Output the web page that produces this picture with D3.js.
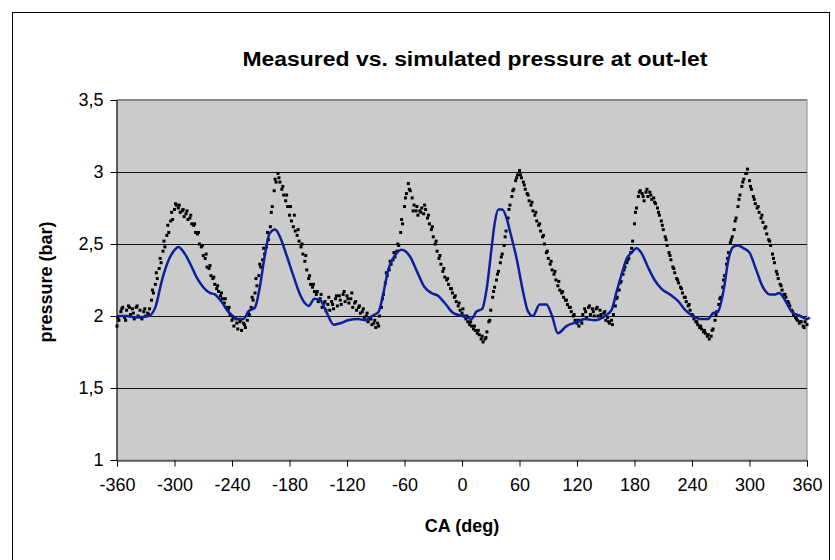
<!DOCTYPE html>
<html>
<head>
<meta charset="utf-8">
<script src="https://cdn.jsdelivr.net/npm/d3@7"></script>
<style>
  body { margin: 0; background: white; }
  text { font-family: Arial, "Liberation Sans", sans-serif; }
</style>
</head>
<body>
<svg id="svg"></svg>
<script>

// x ticks (crank angle) and y ticks (pressure)
let xTicks = [-360, -300, -240, -180, -120, -60, 0, 60, 120, 180, 240, 300, 360];
let yTicks = [1, 1.5, 2, 2.5, 3, 3.5];

// simulated pressure (blue line)
let simDeg = [-360, -350, -340, -327, -320, -313, -306, -301, -296, -289,
    -282, -277, -270, -263, -258, -251, -244, -239, -235, -228,
    -223, -216, -211, -206, -201, -195, -190, -183, -176, -169,
    -164, -160, -154, -148, -141, -134, -127, -119, -108, -101,
    -94, -87, -82, -77, -70, -63, -54, -47, -39, -32,
    -25, -18, -9, 1, 10, 15, 21, 26, 31, 34,
    38, 42, 47, 50, 57, 64, 69, 74, 81, 88,
    94, 100, 109, 121, 128, 139, 149, 156, 161, 167,
    172, 177, 182, 187, 194, 201, 208, 217, 226, 233,
    241, 248, 257, 262, 267, 273, 278, 283, 288, 294,
    300, 307, 314, 321, 327, 331, 337, 344, 353, 360, 363];
let simVal = [2.00, 2.00, 1.99, 2.00, 2.06, 2.25, 2.39, 2.45, 2.48, 2.43,
    2.34, 2.27, 2.20, 2.16, 2.15, 2.10, 2.03, 2.00, 1.98, 1.98,
    2.03, 2.06, 2.20, 2.41, 2.57, 2.60, 2.55, 2.42, 2.28, 2.15,
    2.09, 2.07, 2.12, 2.11, 2.02, 1.94, 1.95, 1.97, 1.98, 1.97,
    2.00, 2.03, 2.16, 2.32, 2.42, 2.46, 2.41, 2.31, 2.20, 2.16,
    2.14, 2.09, 2.02, 2.00, 1.98, 2.03, 2.05, 2.20, 2.48, 2.64,
    2.74, 2.74, 2.67, 2.59, 2.40, 2.16, 2.03, 2.00, 2.08, 2.08,
    2.00, 1.88, 1.93, 1.96, 1.98, 1.97, 2.00, 2.04, 2.16, 2.30,
    2.40, 2.44, 2.47, 2.44, 2.34, 2.25, 2.19, 2.15, 2.10, 2.04,
    2.00, 1.98, 1.98, 2.02, 2.03, 2.18, 2.39, 2.48, 2.49, 2.47,
    2.44, 2.32, 2.20, 2.15, 2.15, 2.16, 2.11, 2.03, 2.00, 1.98, 1.99];

// measured pressure (black dots), first cycle every 2 deg from -360 to 360
let measStartA = -360, measStepA = 2;
let measA = [
    1.93, 1.97, 2.03, 2.06, 1.99, 2.04, 2.07, 2.01, 2.05, 1.98,
    2.06, 2.00, 2.04, 1.98, 2.03, 2.00, 2.02, 2.05, 2.11, 2.16,
    2.22, 2.26, 2.33, 2.37, 2.45, 2.48, 2.56, 2.58, 2.66, 2.67,
    2.74, 2.77, 2.75, 2.72, 2.73, 2.69, 2.71, 2.67, 2.68, 2.64,
    2.63, 2.58, 2.57, 2.50, 2.48, 2.42, 2.40, 2.34, 2.33, 2.28,
    2.26, 2.22, 2.19, 2.17, 2.14, 2.12, 2.09, 2.06, 2.04, 2.01,
    1.97, 1.93, 1.98, 1.91, 1.96, 1.90, 1.95, 1.92, 1.97, 2.01,
    2.06, 2.11, 2.16, 2.21, 2.28, 2.34, 2.39, 2.43, 2.48, 2.53,
    2.62, 2.76, 2.87, 2.93, 2.99, 2.93, 2.88, 2.84, 2.80, 2.76,
    2.70, 2.66, 2.62, 2.59, 2.56, 2.52, 2.48, 2.43, 2.38, 2.32,
    2.26, 2.22, 2.20, 2.17, 2.15, 2.10, 2.12, 2.06, 2.09, 2.04,
    2.08, 2.04, 2.10, 2.05, 2.12, 2.07, 2.14, 2.08, 2.15, 2.10,
    2.14, 2.09, 2.12, 2.06, 2.09, 2.04, 2.06, 2.02, 2.03, 1.99,
    2.00, 1.96, 1.98, 1.94, 1.95, 1.92, 1.95, 2.00, 2.06, 2.15,
    2.23, 2.28, 2.32, 2.36, 2.39, 2.41, 2.45, 2.49, 2.58, 2.64,
    2.76, 2.85, 2.92, 2.87, 2.82, 2.77, 2.73, 2.70, 2.73, 2.75,
    2.71, 2.74, 2.68, 2.64, 2.60, 2.55, 2.50, 2.45, 2.40, 2.36,
    2.31, 2.27, 2.25, 2.22, 2.19, 2.16, 2.13, 2.10, 2.07, 2.04,
    2.02, 2.00, 1.98, 1.96, 1.94, 1.93, 1.91, 1.90, 1.88, 1.87,
    1.84, 1.82, 1.84, 1.89, 1.96, 2.04, 2.13, 2.20, 2.25, 2.31,
    2.37, 2.43, 2.49, 2.59, 2.68, 2.77, 2.83, 2.88, 2.94, 2.98,
    3.01, 2.96, 2.93, 2.88, 2.85, 2.80, 2.77, 2.73, 2.70, 2.66,
    2.63, 2.59, 2.55, 2.50, 2.44, 2.40, 2.36, 2.32, 2.29, 2.25,
    2.21, 2.18, 2.16, 2.13, 2.11, 2.08, 2.06, 2.03, 2.00, 1.97,
    1.95, 1.93, 1.97, 2.01, 2.05, 1.99, 2.06, 2.01, 2.05, 2.00,
    2.05, 2.00, 2.04, 1.99, 2.02, 1.97, 1.99, 1.95, 1.97, 2.01,
    2.07, 2.13, 2.18, 2.24, 2.29, 2.34, 2.37, 2.40, 2.44, 2.52,
    2.64, 2.75, 2.83, 2.87, 2.85, 2.80, 2.86, 2.83, 2.86, 2.81,
    2.82, 2.78, 2.75, 2.70, 2.66, 2.60, 2.55, 2.49, 2.44, 2.39,
    2.34, 2.30, 2.26, 2.23, 2.20, 2.16, 2.13, 2.10, 2.07, 2.04,
    2.01, 1.98, 1.96, 1.94, 1.92, 1.91, 1.89, 1.88, 1.86, 1.84,
    1.86, 1.91, 1.97, 2.03, 2.08, 2.13, 2.20, 2.28, 2.36, 2.44,
    2.51, 2.55, 2.60, 2.68, 2.76, 2.84, 2.90, 2.95, 2.99, 3.02,
    2.94, 2.88, 2.83, 2.78, 2.75, 2.72, 2.68, 2.65, 2.61, 2.57,
    2.53, 2.49, 2.43, 2.37, 2.31, 2.26, 2.22, 2.18, 2.15, 2.13,
    2.10, 2.07, 2.04, 2.01, 1.99, 1.97, 1.95, 1.96, 1.93, 1.96,
    1.94];

// second measured cycle, every 4 deg from -359 to 357
let measStartB = -359, measStepB = 4;
let measB = [
    1.99, 2.05, 1.97, 2.06, 2.02, 2.07, 1.99, 2.05, 2.01, 2.18,
    2.30, 2.40, 2.52, 2.63, 2.72, 2.78, 2.77, 2.74, 2.73, 2.70,
    2.64, 2.58, 2.49, 2.43, 2.35, 2.27, 2.21, 2.16, 2.12, 2.06,
    1.99, 1.95, 1.97, 1.94, 2.02, 2.13, 2.26, 2.36, 2.47, 2.58,
    2.72, 2.95, 2.96, 2.90, 2.84, 2.76, 2.70, 2.60, 2.50, 2.42,
    2.28, 2.22, 2.17, 2.15, 2.10, 2.13, 2.08, 2.14, 2.11, 2.17,
    2.12, 2.16, 2.10, 2.07, 2.05, 2.02, 1.98, 1.97, 1.93, 2.12,
    2.30, 2.38, 2.44, 2.50, 2.67, 2.82, 2.88, 2.73, 2.76, 2.72,
    2.77, 2.70, 2.62, 2.52, 2.42, 2.33, 2.26, 2.19, 2.14, 2.09,
    2.05, 2.00, 1.96, 1.93, 1.90, 1.86, 1.85, 1.97, 2.17, 2.29,
    2.41, 2.55, 2.74, 2.87, 2.96, 2.98, 2.91, 2.84, 2.79, 2.72,
    2.64, 2.56, 2.45, 2.38, 2.31, 2.24, 2.17, 2.11, 2.06, 2.01,
    1.97, 1.95, 2.03, 2.07, 2.03, 2.06, 2.01, 2.03, 1.96, 1.94,
    2.12, 2.23, 2.32, 2.39, 2.47, 2.72, 2.86, 2.83, 2.88, 2.84,
    2.79, 2.72, 2.63, 2.53, 2.42, 2.33, 2.25, 2.19, 2.13, 2.08,
    2.00, 1.96, 1.93, 1.90, 1.87, 1.90, 2.01, 2.12, 2.25, 2.40,
    2.53, 2.66, 2.81, 2.93, 2.99, 2.90, 2.81, 2.76, 2.70, 2.62,
    2.52, 2.40, 2.29, 2.21, 2.15, 2.09, 2.03, 1.98, 1.96, 1.92];

const width = 835;
const height = 560;

let svg = d3.select("#svg")
    .attr("width", width)
    .attr("height", height);

// plot area
const plot = { left: 117, right: 807, top: 100, bottom: 460 };

let xScale = d3.scaleLinear()
    .domain([-360, 360])
    .range([plot.left, plot.right]);

let yScale = d3.scaleLinear()
    .domain([1, 3.5])
    .range([plot.bottom, plot.top]);

function drawFrame() {
    // white chart area with the thin black border
    svg.append("rect")
        .attr("x", 0).attr("y", 0)
        .attr("width", width).attr("height", height)
        .attr("fill", "white");

    svg.append("rect")
        .attr("x", 12.5).attr("y", 12.5)
        .attr("width", 817).attr("height", 570)
        .attr("fill", "none")
        .attr("stroke", "black")
        .attr("stroke-width", 1);

    // gray plot area
    svg.append("rect")
        .attr("x", plot.left).attr("y", plot.top)
        .attr("width", plot.right - plot.left)
        .attr("height", plot.bottom - plot.top)
        .attr("fill", "#cbcbcb")
        .attr("stroke", "#8a8a8a")
        .attr("stroke-width", 1);
}

function drawGrid() {
    let grid = svg.append("g").attr("class", "grid");
    grid.selectAll("line")
        .data(yTicks.filter(d => d > 1 && d < 3.5))
        .enter().append("line")
        .attr("x1", plot.left)
        .attr("x2", plot.right)
        .attr("y1", d => Math.round(yScale(d)) + 0.5)
        .attr("y2", d => Math.round(yScale(d)) + 0.5)
        .attr("stroke", "#111")
        .attr("stroke-width", 1);

    // top border is a bit heavier and gray
    svg.append("line")
        .attr("x1", plot.left).attr("x2", plot.right)
        .attr("y1", plot.top).attr("y2", plot.top)
        .attr("stroke", "#8a8a8a")
        .attr("stroke-width", 2);
}

function drawAxes() {
    let xAxis = d3.axisBottom(xScale)
        .tickValues(xTicks)
        .tickSize(6)
        .tickPadding(12)
        .tickFormat(d => d);

    let yAxis = d3.axisLeft(yScale)
        .tickValues(yTicks)
        .tickSize(6)
        .tickPadding(7)
        .tickFormat(d => String(d).replace(".", ","));

    let gx = svg.append("g")
        .attr("transform", `translate(0,${plot.bottom + 0.5})`)
        .call(xAxis);

    let gy = svg.append("g")
        .attr("transform", `translate(${plot.left - 0.5},0)`)
        .call(yAxis);

    for (let g of [gx, gy]) {
        g.select(".domain").attr("stroke", "black");
        g.selectAll(".tick line").attr("stroke", "black");
        g.selectAll("text")
            .style("font-family", "Arial, 'Liberation Sans', sans-serif")
            .style("font-size", "18px")
            .attr("fill", "black");
    }
}

function drawSeries() {
    // measured, drawn as small black squares
    let measured = measA.map((v, i) => ({ deg: measStartA + i * measStepA, val: v }))
        .concat(measB.map((v, i) => ({ deg: measStartB + i * measStepB, val: v })));

    svg.append("g").attr("class", "measured")
        .selectAll("rect")
        .data(measured)
        .enter().append("rect")
        .attr("x", d => xScale(d.deg) - 1.5)
        .attr("y", d => yScale(d.val) - 1.5)
        .attr("width", 3)
        .attr("height", 3)
        .attr("fill", "black");

    // simulated line
    let sim = simDeg.map((d, i) => ({ deg: d, val: simVal[i] }));
    let line = d3.line()
        .x(d => xScale(d.deg))
        .y(d => yScale(d.val))
        .curve(d3.curveMonotoneX);

    svg.append("path")
        .datum(sim)
        .attr("d", line)
        .attr("fill", "none")
        .attr("stroke", "#0c1f9c")
        .attr("stroke-width", 2.5);
}

function drawTitles() {
    // the title in the original is wider than plain Arial, stretch it a bit
    svg.append("text")
        .attr("x", 475)
        .attr("y", 66)
        .attr("text-anchor", "middle")
        .attr("textLength", 465)
        .attr("lengthAdjust", "spacingAndGlyphs")
        .style("font-size", "20px")
        .style("font-weight", "bold")
        .text("Measured vs. simulated pressure at out-let");

    svg.append("text")
        .attr("x", 462)
        .attr("y", 532)
        .attr("text-anchor", "middle")
        .style("font-size", "18px")
        .style("font-weight", "bold")
        .text("CA (deg)");

    svg.append("text")
        .attr("transform", "translate(52,282) rotate(-90)")
        .attr("text-anchor", "middle")
        .style("font-size", "18px")
        .style("font-weight", "bold")
        .text("pressure (bar)");
}

drawFrame();
drawGrid();
drawSeries();
drawAxes();
drawTitles();

</script>
</body>
</html>
